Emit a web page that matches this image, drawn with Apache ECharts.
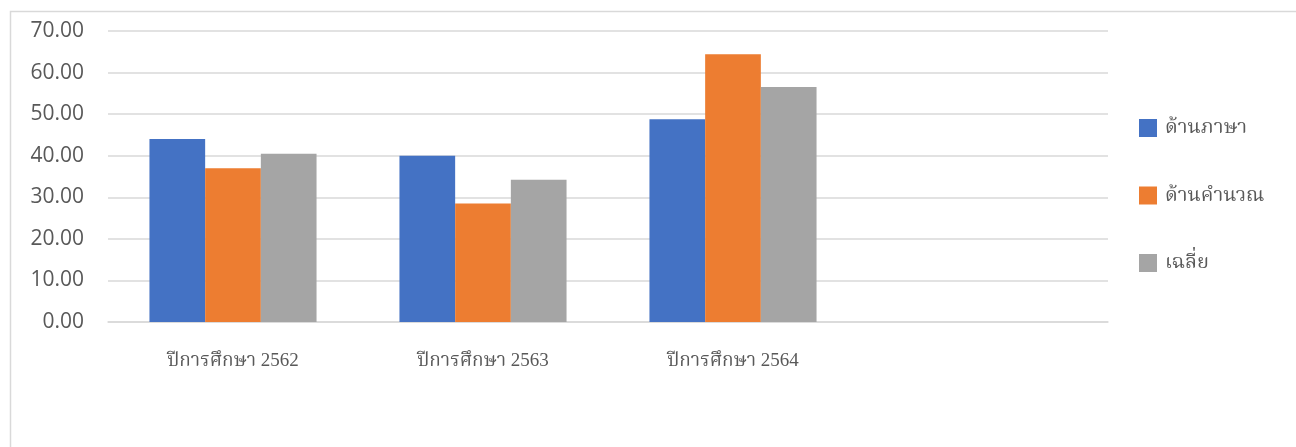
<!DOCTYPE html>
<html>
<head>
<meta charset="utf-8">
<script src="https://cdn.jsdelivr.net/npm/echarts@6/dist/echarts.min.js"></script>
<style>
html,body{margin:0;padding:0;background:#fff;}
#chart{width:1296px;height:447px;}
</style>
</head>
<body>
<div id="chart"></div>
<script>
const categories = ['ปีการศึกษา 2562', 'ปีการศึกษา 2563', 'ปีการศึกษา 2564', ''];
const seriesNames = ['ด้านภาษา', 'ด้านคำนวณ', 'เฉลี่ย'];
const languageValues = [44.0, 40.0, 48.8, null];
const calcValues = [37.0, 28.5, 64.4, null];
const averageValues = [40.5, 34.2, 56.5, null];
const yMin = 0;
const yMax = 70;
const yStep = 10;
const colors = ['#4472C4', '#ED7D31', '#A5A5A5'];

const thaiFont = "'Liberation Serif', 'Noto Serif Thai', 'Noto Sans Thai', 'Tlwg Typo', serif";
const chart = echarts.init(document.getElementById('chart'), null, {renderer: 'canvas'});
const values = [languageValues, calcValues, averageValues];
chart.setOption({
  animation: false,
  color: colors,
  graphic: [{
    type: 'rect',
    shape: {x: 10.5, y: 11.5, width: 1400, height: 600},
    style: {fill: 'none', stroke: '#d9d9d9', lineWidth: 1.5},
    silent: true
  }],
  grid: {left: 108, right: 188, top: 31, bottom: 125, containLabel: false},
  legend: {
    orient: 'vertical',
    left: 1139,
    top: 118,
    padding: 0,
    itemWidth: 18,
    itemHeight: 18,
    itemGap: 47.5,
    icon: 'rect',
    textStyle: {fontFamily: thaiFont, fontSize: 20, color: '#595959', lineHeight: 20, padding: [0,0,0,3]},
    data: seriesNames
  },
  xAxis: {
    type: 'category',
    data: categories,
    axisLine: {show: true, lineStyle: {color: '#d9d9d9', width: 1.5}},
    axisTick: {show: false},
    axisLabel: {fontFamily: thaiFont, fontSize: 19, color: '#595959', margin: 30, interval: 0}
  },
  yAxis: {
    type: 'value',
    min: yMin,
    max: yMax,
    interval: yStep,
    axisLine: {show: false},
    axisTick: {show: false},
    splitLine: {lineStyle: {color: '#d9d9d9', width: 1.5}},
    axisLabel: {
      fontFamily: "'Open Sans', 'Noto Sans', sans-serif",
      fontSize: 21,
      color: '#595959',
      margin: 24,
      formatter: v => v.toFixed(2)
    }
  },
  series: seriesNames.map((name, i) => ({
    name: name,
    type: 'bar',
    data: values[i],
    barWidth: 55.7,
    barGap: '0%',
    itemStyle: {color: colors[i]}
  }))
});
</script>
</body>
</html>
